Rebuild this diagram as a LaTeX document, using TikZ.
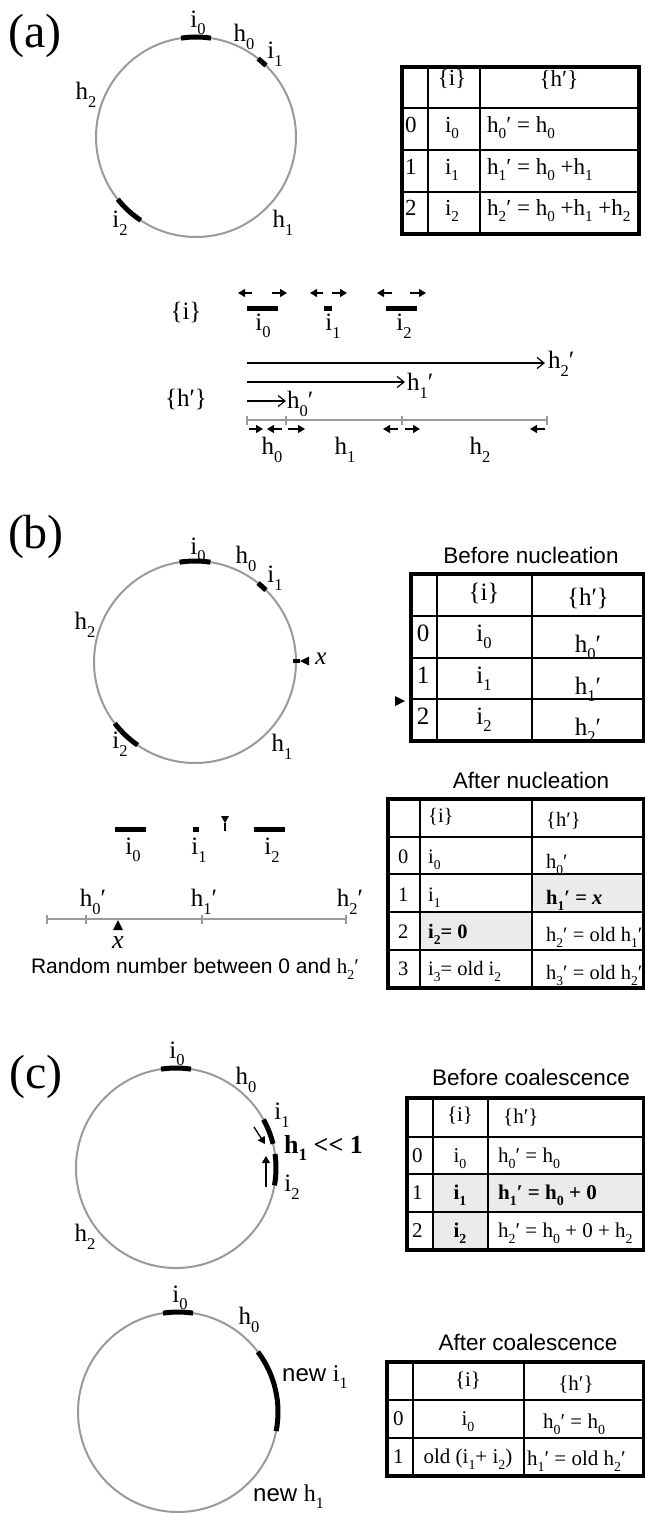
\documentclass[tikz,border=0pt]{standalone}
\usepackage{fontspec}
\setmainfont{Liberation Serif}
\setsansfont{Liberation Sans}
\usepackage{graphicx}
\usetikzlibrary{arrows.meta}
\definecolor{ringgray}{HTML}{9A9A9A}
\definecolor{cellgray}{HTML}{EBEBEB}
\newcommand\sbs[1]{\raisebox{-0.3em}{\scalebox{0.66}{#1}}}
\newcommand\fs[1]{\fontsize{#1}{#1}\selectfont}
\newcommand\bararc[4]{\draw[bar] ([shift={(#2:#4pt)}]#1) arc[start angle=#2,end angle=#3,radius=#4pt];}
\begin{document}
\begin{tikzpicture}[x=1pt,y=-1pt,
  ring/.style={draw=ringgray,line width=2pt},
  gline/.style={draw=ringgray,line width=1.6pt},
  bar/.style={draw=black,line width=5pt},
  lab/.style={inner sep=0pt,font=\fs{25}},
  plab/.style={inner sep=0pt,font=\fs{48}},
  tx/.style={inner sep=0pt,anchor=base},
  txw/.style={inner sep=0pt,anchor=base west},
  outer/.style={line width=3.5pt},
  innerl/.style={line width=1.2pt},
  tip/.style={-{Triangle[length=7pt,width=8pt]},line width=1.3pt},
  longarr/.style={-{Straight Barb[length=7pt,width=11pt]},line width=1.2pt},
  head/.style={inner sep=0pt,font=\sffamily\fs{22.5}}]
\path[use as bounding box] (0,0) rectangle (645,1513);

% ================= (a) =================
\node[plab] (la) at (35,36) {(a)};
\coordinate (ca) at (196,137);
\draw[ring] (ca) circle[radius=100pt];
\bararc{ca}{81.4}{98.6}{100}
\bararc{ca}{45.6}{51.6}{100}
\bararc{ca}{218.5}{236.5}{100}
\node[lab] (a-i0) at (198,23) {i\sbs{0}};
\node[lab] (a-h0) at (244,37) {h\sbs{0}};
\node[lab] (a-i1) at (275,54) {i\sbs{1}};
\node[lab] (a-h2) at (86,95) {h\sbs{2}};
\node[lab] (a-i2) at (120,223) {i\sbs{2}};
\node[lab] (a-h1) at (283,223) {h\sbs{1}};

% table (a)
\begin{scope}[font=\fs{23}]
\draw[innerl] (428,67) -- (428,234) (480,67) -- (480,234);
\draw[innerl] (402,108) -- (639,108) (402,150) -- (639,150) (402,192) -- (639,192);
\draw[outer] (402,67) rectangle (639,234);
\node[tx] (ta-hi) at (452,85) {\{i\}};
\node[tx] (ta-hh) at (559,86) {\{h′\}};
\node[txw] (ta-n0) at (405,132) {0};
\node[tx] (ta-i0) at (452,132) {i\sbs{0}};
\node[txw] (ta-h0) at (487,132) {h\sbs{0}′ = h\sbs{0}};
\node[txw] (ta-n1) at (405,174) {1};
\node[tx] (ta-i1) at (452,174) {i\sbs{1}};
\node[txw] (ta-h1) at (487,174) {h\sbs{1}′ = h\sbs{0} +h\sbs{1}};
\node[txw] (ta-n2) at (405,215) {2};
\node[tx] (ta-i2) at (452,215) {i\sbs{2}};
\node[txw] (ta-h2) at (487,215) {h\sbs{2}′ = h\sbs{0} +h\sbs{1} +h\sbs{2}};
\end{scope}

% {i} line
\node[lab] (a-set-i) at (186,312) {\{i\}};
\draw[bar] (247,308) -- (278,308);
\draw[bar] (324,308) -- (332,308);
\draw[bar] (386,308) -- (417,308);
\draw[tip] (252,293) -- (238,293);
\draw[tip] (272,293) -- (287,293);
\draw[tip] (323,293) -- (310,293);
\draw[tip] (332,293) -- (347,293);
\draw[tip] (392,293) -- (377,293);
\draw[tip] (410,293) -- (426,293);
\node[lab] (b-i0) at (263,326) {i\sbs{0}};
\node[lab] (b-i1) at (333,326) {i\sbs{1}};
\node[lab] (b-i2) at (404,326) {i\sbs{2}};

% {h'} arrows
\node[lab] (a-set-h) at (186,399) {\{h′\}};
\node[lab,anchor=west] (hp2) at (548,364) {h\sbs{2}′};
\node[lab,anchor=west] (hp1) at (407,386) {h\sbs{1}′};
\node[lab,anchor=west] (hp0) at (287,404) {h\sbs{0}′};
\coordinate (o2) at (247,363);
\coordinate (o1) at (247,382);
\coordinate (o0) at (247,401);
\draw[longarr] (o2) -- (545,363);
\draw[longarr] (o1) -- (405,382);
\draw[longarr] (o0) -- (286,401);
\draw[gline] (247,420) -- (547,420);
\foreach \xx in {247,286,402,547} \draw[ringgray,line width=1.4pt] (\xx,415.5) -- (\xx,424.5);
\draw[tip] (249,429) -- (263,429);
\draw[tip] (282,429) -- (267,429);
\draw[tip] (288,429) -- (305,429);
\draw[tip] (398,429) -- (383,429);
\draw[tip] (405,429) -- (420,429);
\draw[tip] (545,429) -- (530,429);
\node[lab] (s-h0) at (272,450) {h\sbs{0}};
\node[lab] (s-h1) at (345,450) {h\sbs{1}};
\node[lab] (s-h2) at (480,450) {h\sbs{2}};

% ================= (b) =================
\node[plab] (lb) at (36,537) {(b)};
\coordinate (cb) at (195,662);
\draw[ring] (cb) circle[radius=101pt];
\bararc{cb}{81.2}{98.8}{101}
\bararc{cb}{45.4}{51.4}{101}
\bararc{cb}{217.4}{235.4}{101}
\draw[line width=4pt] (293,661) -- (300,661);
\fill (300,661) -- (309,656.5) -- (309,665.5) -- cycle;
\node[lab,font=\fs{25}\itshape] (b-x) at (321,659) {x};
\node[lab] (b-ci0) at (198,550) {i\sbs{0}};
\node[lab] (b-ch0) at (246,559) {h\sbs{0}};
\node[lab] (b-ci1) at (275,578) {i\sbs{1}};
\node[lab] (b-ch2) at (85,625) {h\sbs{2}};
\node[lab] (b-ci2) at (120,744) {i\sbs{2}};
\node[lab] (b-ch1) at (282,747) {h\sbs{1}};

% Before nucleation table
\node[head] (t-bn) at (531,555) {Before nucleation};
\begin{scope}[font=\fs{25}]
\draw[innerl] (437,574) -- (437,741) (532,574) -- (532,741);
\draw[innerl] (411,616) -- (644,616) (411,658) -- (644,658) (411,699) -- (644,699);
\draw[outer] (411,574) rectangle (644,741);
\node[tx] (tb-hi) at (484,600) {\{i\}};
\node[tx] (tb-hh) at (588,605) {\{h′\}};
\node[tx] (tb-n0) at (423,641) {0};
\node[tx] (tb-i0) at (484,641) {i\sbs{0}};
\node[tx] (tb-h0) at (588,652) {h\sbs{0}′};
\node[tx] (tb-n1) at (423,683) {1};
\node[tx] (tb-i1) at (484,683) {i\sbs{1}};
\node[tx] (tb-h1) at (588,694) {h\sbs{1}′};
\node[tx] (tb-n2) at (423,724) {2};
\node[tx] (tb-i2) at (484,724) {i\sbs{2}};
\node[tx] (tb-h2) at (588,735) {h\sbs{2}′};
\end{scope}
\fill (405,701) -- (395,696) -- (395,706) -- cycle;

% lower (b)
\draw[bar] (115,829) -- (146,829);
\draw[bar] (193,829) -- (199,829);
\draw[bar] (254,829) -- (285,829);
\fill (221,816) -- (229,816) -- (225,823) -- cycle;
\draw[line width=2.5pt] (225,823) -- (225,831);
\node[lab] (n-i0) at (133,850) {i\sbs{0}};
\node[lab] (n-i1) at (199,850) {i\sbs{1}};
\node[lab] (n-i2) at (272,850) {i\sbs{2}};
\draw[gline] (47,919) -- (346,919);
\foreach \xx in {47,86,202,346} \draw[ringgray,line width=1.4pt] (\xx,914.5) -- (\xx,923.5);
\node[lab] (n-h0) at (93,902) {h\sbs{0}′};
\node[lab] (n-h1) at (204,902) {h\sbs{1}′};
\node[lab] (n-h2) at (350,902) {h\sbs{2}′};
\fill (118,920) -- (123,930) -- (113,930) -- cycle;
\node[lab,font=\fs{26}\itshape] (n-x) at (118,943) {x};
\node[inner sep=0pt,font=\sffamily\fs{21},anchor=base] (rand) at (195,973) {Random number between 0 and {\rmfamily h\sbs{2}′}};

% After nucleation table
\node[head] (t-an) at (531,780) {After nucleation};
\fill[cellgray] (532,874) rectangle (644,912);
\fill[cellgray] (420,912) rectangle (532,950);
\begin{scope}[font=\fs{20.5}]
\draw[innerl] (420,799) -- (420,988) (532,799) -- (532,988);
\draw[innerl] (388,837) -- (644,837) (388,874) -- (644,874) (388,912) -- (644,912) (388,950) -- (644,950);
\draw[outer] (388,799) rectangle (644,988);
\node[txw] (tc-hi) at (428,822) {\{i\}};
\node[txw] (tc-hh) at (546,826) {\{h′\}};
\node[txw] (tc-n0) at (398,863) {0};
\node[txw] (tc-i0) at (428,863) {i\sbs{0}};
\node[txw] (tc-h0) at (546,868) {h\sbs{0}′};
\node[txw] (tc-n1) at (398,901) {1};
\node[txw] (tc-i1) at (428,901) {i\sbs{1}};
\node[txw] (tc-h1) at (546,904) {\textbf{h\sbs{1}′ = \textit{x}}};
\node[txw] (tc-n2) at (398,938) {2};
\node[txw] (tc-i2) at (428,938) {\textbf{i\sbs{2}= 0}};
\node[txw] (tc-h2) at (546,941) {h\sbs{2}′ = old h\sbs{1}′};
\node[txw] (tc-n3) at (398,975) {3};
\node[txw] (tc-i3) at (428,975) {i\sbs{3}= old i\sbs{2}};
\node[txw] (tc-h3) at (546,979) {h\sbs{3}′ = old h\sbs{2}′};
\end{scope}

% ================= (c) =================
\node[plab] (lc) at (36,1077) {(c)};
\coordinate (cc) at (176,1168);
\draw[ring] (cc) circle[radius=100pt];
\bararc{cc}{81.4}{98.6}{100}
\bararc{cc}{14}{29}{100}
\bararc{cc}{-10}{8}{100}
\coordinate (ar1s) at (254,1127);
\coordinate (ar1e) at (265,1144);
\coordinate (ar2s) at (266,1187);
\coordinate (ar2e) at (266,1156);
\draw[tip] (ar1s) -- (ar1e);
\draw[tip] (ar2s) -- (ar2e);
\node[lab] (c-i0) at (177,1054) {i\sbs{0}};
\node[lab] (c-h0) at (246,1080) {h\sbs{0}};
\node[lab] (c-i1) at (282,1115) {i\sbs{1}};
\node[lab,anchor=base west,font=\fs{26}\bfseries] (c-h1) at (284,1153) {h\sbs{1} <{}< 1};
\node[lab] (c-i2) at (292,1187) {i\sbs{2}};
\node[lab] (c-h2) at (85,1237) {h\sbs{2}};

% Before coalescence table
\node[head] (t-bc) at (531,1077) {Before coalescence};
\fill[cellgray] (433,1174) rectangle (644,1212);
\fill[cellgray] (433,1212) rectangle (488,1250);
\begin{scope}[font=\fs{21}]
\draw[innerl] (433,1098) -- (433,1250) (488,1098) -- (488,1250);
\draw[innerl] (407,1137) -- (644,1137) (407,1174) -- (644,1174) (407,1212) -- (644,1212);
\draw[outer] (407,1098) rectangle (644,1250);
\node[tx] (td-hi) at (460,1121) {\{i\}};
\node[txw] (td-hh) at (503,1123) {\{h′\}};
\node[txw] (td-n0) at (412,1162) {0};
\node[tx] (td-i0) at (460,1162) {i\sbs{0}};
\node[txw] (td-h0) at (498,1162) {h\sbs{0}′ = h\sbs{0}};
\node[txw] (td-n1) at (412,1199) {1};
\node[tx] (td-i1) at (460,1199) {\textbf{i\sbs{1}}};
\node[txw] (td-h1) at (498,1199) {\textbf{h\sbs{1}′ = h\sbs{0} + 0}};
\node[txw] (td-n2) at (412,1237) {2};
\node[tx] (td-i2) at (460,1237) {\textbf{i\sbs{2}}};
\node[txw] (td-h2) at (498,1237) {h\sbs{2}′ = h\sbs{0} + 0 + h\sbs{2}};
\end{scope}

% lower circle (c)
\coordinate (cd) at (178,1412);
\draw[ring] (cd) circle[radius=100pt];
\bararc{cd}{81.4}{98.6}{100}
\bararc{cd}{-11}{37}{100}
\node[lab] (d-i0) at (180,1298) {i\sbs{0}};
\node[lab] (d-h0) at (249,1320) {h\sbs{0}};
\node[lab,anchor=west,font=\sffamily\fs{24}] (d-i1) at (282,1377) {new {\rmfamily i\sbs{1}}};
\node[lab,anchor=west,font=\sffamily\fs{24}] (d-h1) at (253,1497) {new {\rmfamily h\sbs{1}}};

% After coalescence table
\node[head] (t-ac) at (528,1342) {After coalescence};
\begin{scope}[font=\fs{21}]
\draw[innerl] (413,1362) -- (413,1476) (524,1362) -- (524,1476);
\draw[innerl] (387,1400) -- (644,1400) (387,1438) -- (644,1438);
\draw[outer] (387,1362) rectangle (644,1476);
\node[tx] (te-hi) at (468,1386) {\{i\}};
\node[tx] (te-hh) at (576,1390) {\{h′\}};
\node[txw] (te-n0) at (393,1425) {0};
\node[tx] (te-i0) at (468,1425) {i\sbs{0}};
\node[txw] (te-h0) at (543,1428) {h\sbs{0}′ = h\sbs{0}};
\node[txw] (te-n1) at (393,1463) {1};
\node[tx] (te-i1) at (468,1463) {old (i\sbs{1}+ i\sbs{2})};
\node[txw] (te-h1) at (527,1465) {h\sbs{1}′ = old h\sbs{2}′};
\end{scope}
\end{tikzpicture}
\end{document}
